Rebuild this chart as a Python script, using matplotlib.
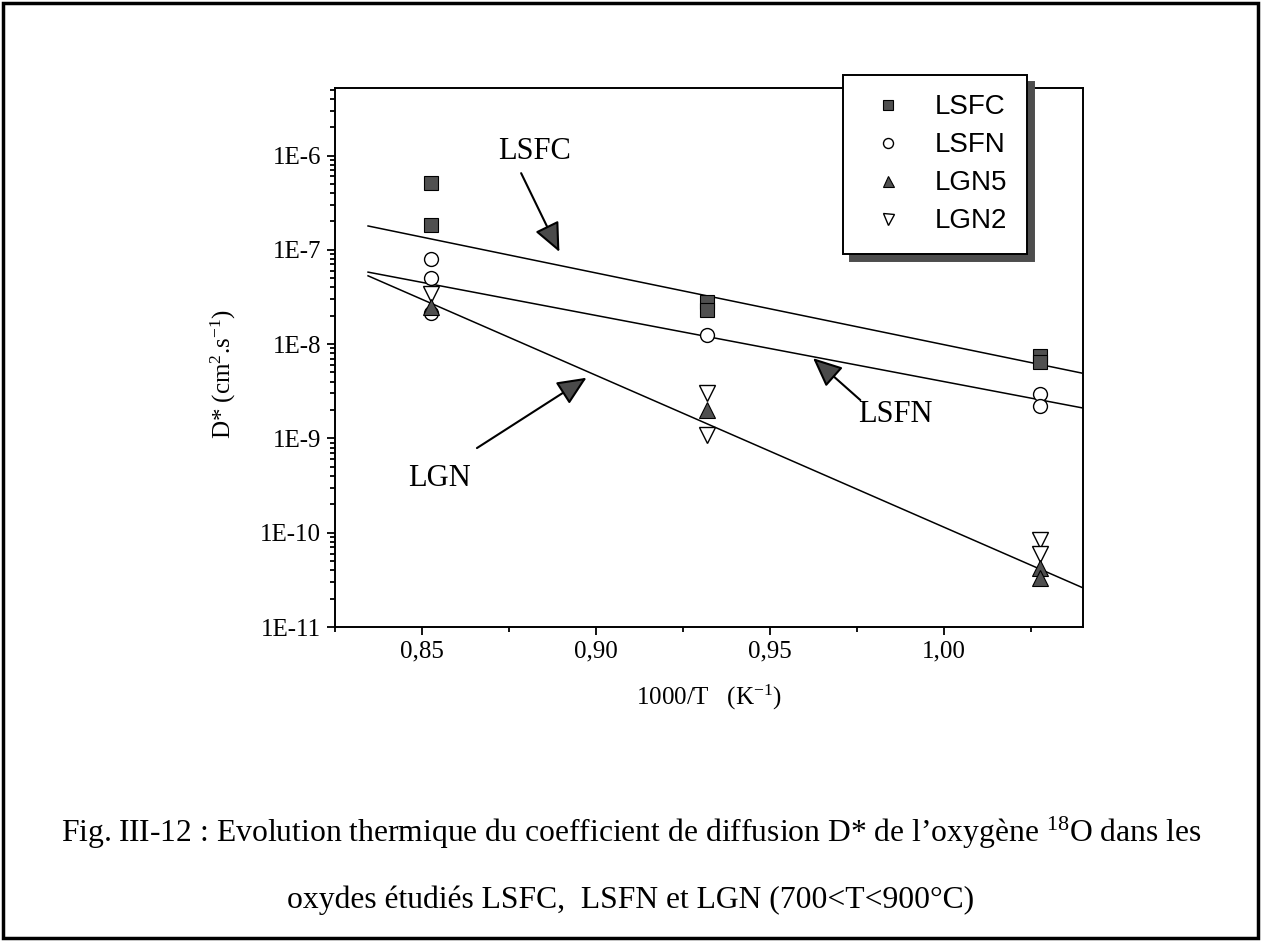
import matplotlib
matplotlib.use('Agg')
import matplotlib.pyplot as plt
from matplotlib.patches import Rectangle
from matplotlib.ticker import FixedLocator, LogLocator, NullFormatter

plt.rcParams['mathtext.fontset'] = 'custom'
plt.rcParams['mathtext.rm'] = 'Liberation Serif'
plt.rcParams['mathtext.it'] = 'Liberation Serif:italic'
plt.rcParams['font.family'] = ['Liberation Serif', 'DejaVu Serif']

# ---------------- data ----------------
lsfc_x = [0.8525, 0.8525, 0.932, 0.932, 1.0277, 1.0277]
lsfc_y = [5.1e-7, 1.83e-7, 2.8e-8, 2.3e-8, 7.4e-9, 6.5e-9]

lsfn_x = [0.8525, 0.8525, 0.8525, 0.932, 1.0277, 1.0277]
lsfn_y = [8.0e-8, 5.0e-8, 2.15e-8, 1.25e-8, 2.95e-9, 2.2e-9]

lgn5_x = [0.8525, 0.932, 1.0277, 1.0277]
lgn5_y = [2.5e-8, 2.0e-9, 4.2e-11, 3.3e-11]

lgn2_x = [0.8525, 0.932, 0.932, 1.0277, 1.0277]
lgn2_y = [3.4e-8, 3.0e-9, 1.1e-9, 8.3e-11, 6.0e-11]

fit_x = [0.8345, 1.04]
lsfc_fit = [1.79e-7, 4.9e-9]
lsfn_fit = [5.8e-8, 2.1e-9]
lgn_fit = [5.3e-8, 2.6e-11]

series_labels = ['LSFC', 'LSFN', 'LGN5', 'LGN2']

xticks = [0.85, 0.90, 0.95, 1.00]
xtick_labels = ['0,85', '0,90', '0,95', '1,00']
xminor = [0.825, 0.875, 0.925, 0.975, 1.025]
yticks = [1e-11, 1e-10, 1e-9, 1e-8, 1e-7, 1e-6]
ytick_labels = ['1E-11', '1E-10', '1E-9', '1E-8', '1E-7', '1E-6']

# annotations: (label, text pos, arrow tail, arrow head)
ann_labels = ['LSFC', 'LSFN', 'LGN']
ann_text = [(0.8823, 1.09e-6), (0.986, 1.8e-9), (0.855, 3.8e-10)]
ann_tail = [(0.8785, 6.5e-7), (0.976, 2.55e-9), (0.8658, 7.9e-10)]
ann_head = [(0.8895, 9.5e-8), (0.9624, 7.1e-9), (0.8973, 4.4e-9)]

caption1 = "Fig. III-12 : Evolution thermique du coefficient de diffusion D* de l\u2019oxyg\u00e8ne $^{18}$O dans les"
caption2 = "oxydes \u00e9tudi\u00e9s LSFC,  LSFN et LGN (700<T<900\u00b0C)"

# ---------------- figure ----------------
W, H = 1262, 941
fig = plt.figure(figsize=(W / 100, H / 100), dpi=100)
fig.patch.set_facecolor('white')

ax_l, ax_r, ax_t, ax_b = 335, 1083, 88, 627
ax = fig.add_axes([ax_l / W, 1 - ax_b / H, (ax_r - ax_l) / W, (ax_b - ax_t) / H])
ax.set_yscale('log')
ax.set_xlim(0.825, 1.04)
ax.set_ylim(1e-11, 5.2e-6)

fill = '#505050'
ax.plot(fit_x, lsfc_fit, color='black', lw=1.1, zorder=2)
ax.plot(fit_x, lsfn_fit, color='black', lw=1.1, zorder=2)
ax.plot(fit_x, lgn_fit, color='black', lw=1.1, zorder=2)

h1, = ax.plot(lsfc_x, lsfc_y, ls='none', marker='s', ms=9.5, mfc=fill, mec='black', mew=0.8, zorder=3)
h2, = ax.plot(lsfn_x, lsfn_y, ls='none', marker='o', ms=10, mfc='white', mec='black', mew=1.0, zorder=3)
h4, = ax.plot(lgn2_x, lgn2_y, ls='none', marker='v', ms=11, mfc='white', mec='black', mew=1.0, zorder=3)
h3, = ax.plot(lgn5_x, lgn5_y, ls='none', marker='^', ms=11, mfc=fill, mec='black', mew=0.8, zorder=4)

# ticks
ax.xaxis.set_major_locator(FixedLocator(xticks))
ax.set_xticklabels(xtick_labels)
ax.xaxis.set_minor_locator(FixedLocator(xminor))
ax.yaxis.set_major_locator(FixedLocator(yticks))
ax.set_yticklabels(ytick_labels)
ax.yaxis.set_minor_locator(LogLocator(base=10, subs=range(2, 10)))
ax.yaxis.set_minor_formatter(NullFormatter())
ax.tick_params(which='both', direction='out', top=False, right=False, width=1.3,
               labelsize=18, colors='black')
ax.tick_params(which='major', length=6, pad=4)
ax.tick_params(which='minor', length=3.5)
for s in ax.spines.values():
    s.set_linewidth(1.4)

ax.set_xlabel('1000/T   (K$^{-1}$)', fontsize=18)
ax.xaxis.set_label_coords(0.5, -(683 - ax_b) / (ax_b - ax_t), transform=ax.transAxes)
ax.set_ylabel('D* (cm$^{2}$.s$^{-1}$)', fontsize=18)
ax.yaxis.set_label_coords(-(ax_l - 238) / (ax_r - ax_l), 0.47)

# annotations with arrows
for lab, tp, tl, hd in zip(ann_labels, ann_text, ann_tail, ann_head):
    ax.text(tp[0], tp[1], lab, fontsize=22, ha='center', va='center', zorder=5)
    ax.annotate('', xy=hd, xytext=tl,
                arrowprops=dict(arrowstyle='-|>,head_length=0.9,head_width=0.4',
                                mutation_scale=20, fc='#4a4a4a', ec='black', lw=1.5,
                                shrinkA=0, shrinkB=0), zorder=5)

# legend
leg = ax.legend([h1, h2, h3, h4], series_labels, loc='upper left',
                bbox_to_anchor=(843 / W, 1 - 75 / H), bbox_transform=fig.transFigure,
                frameon=True, fancybox=False, edgecolor='black', framealpha=1,
                shadow={'ox': 5, 'oy': -5, 'alpha': 1, 'facecolor': '#4d4d4d',
                        'edgecolor': '#4d4d4d'},
                prop={'family': 'Liberation Sans', 'size': 20},
                markerscale=0.72, handlelength=1.83, handletextpad=0.77,
                labelspacing=0.43, borderpad=0.7, borderaxespad=0)
leg.get_frame().set_linewidth(1.4)
leg.set_zorder(10)

# caption
t1 = fig.text(0.5, 1 - 833 / H, caption1, ha='center', va='center', fontsize=20)
t2 = fig.text(0.5, 1 - 900 / H, caption2, ha='center', va='center', fontsize=20)
fig.canvas.draw()
w1 = t1.get_window_extent().width
scale = 1140 / w1
t1.set_fontsize(20 * scale)
t2.set_fontsize(20 * scale)

# outer frame
fig.add_artist(Rectangle((0.002, 0.003), 0.995, 0.994, transform=fig.transFigure,
                         fill=False, ec='black', lw=2.5))

fig.savefig('out.png', dpi=100)
